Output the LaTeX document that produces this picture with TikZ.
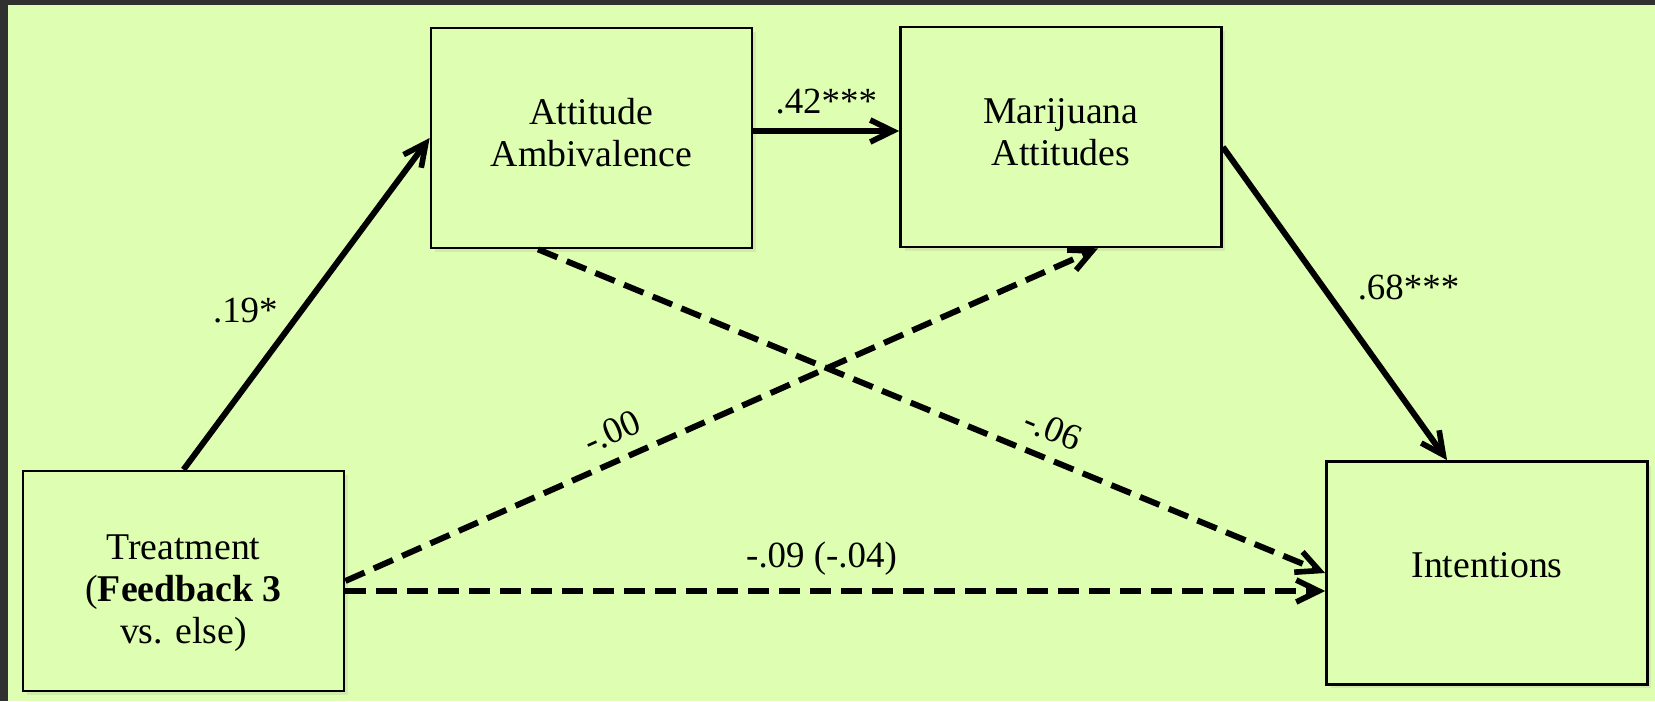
\documentclass[tikz,border=0pt]{standalone}
\usepackage{fontspec}
\setmainfont{Liberation Serif}
\usetikzlibrary{arrows.meta,calc,shadows}
\definecolor{framegray}{RGB}{48,48,48}
\definecolor{slidegreen}{RGB}{222,255,177}
\tikzset{
  var/.style={draw,line width=1.6pt,fill=slidegreen,minimum width=6.42cm,
    minimum height=4.4cm,align=center,font=\fontsize{21.5}{24}\selectfont,
    drop shadow={opacity=0.15,shadow xshift=0.08cm,shadow yshift=-0.08cm}},
  effect/.style={line width=3.4pt,
    -{Straight Barb[length=4.5mm,width=4.4mm,line width=3.2pt]}},
  nseffect/.style={effect,dash pattern=on 0.42cm off 0.2cm},
  coef/.style={font=\fontsize{21}{25}\selectfont,inner sep=2pt}
}

\begin{document}
\begin{tikzpicture}[x=0.02cm,y=-0.02cm]
    \useasboundingbox (0,0) rectangle (1655,701);
    \fill[framegray] (0,0) rectangle (1655,701);
    \fill[slidegreen] (8,5) rectangle (1655,701);
    \node[var,text depth=0pt] (treat) at (183.5,581) {\rule{0pt}{23pt}Treatment\\(\textbf{Feedback 3}\\vs. else)};
    \node[var,text depth=6pt] (ambiv) at (591.5,138) {Attitude\\Ambivalence};
    \node[var,text depth=6pt] (attit) at (1061,137) {Marijuana\\Attitudes};
    \node[var,text depth=9.5pt,minimum height=4.46cm] (intent) at (1487,573) {Intentions};
    \coordinate (t0) at ([yshift=-0.2cm]treat.east);
    \draw[effect] (treat.north) -- (ambiv.west)
      node[coef,pos=0.48,left=0.35cm] {.19*};
    \draw[effect] ([yshift=0.14cm]ambiv.east) -- ([yshift=0.14cm]ambiv.east -| attit.west)
      node[coef,midway,above=0.2cm] {.42***};
    \draw[effect] ([yshift=-0.2cm]attit.east) -- ([xshift=-0.8cm]intent.north)
      node[coef,pos=0.45,right=0.55cm] {.68***};
    \draw[nseffect] (treat.east) -- ([xshift=0.74cm]attit.south)
      node[coef,pos=0.37,sloped,above=0.2cm] {-.00};
    \draw[nseffect] ([xshift=-1.07cm]ambiv.south) -- (intent.west)
      node[coef,pos=0.64,sloped,above=0.2cm] {-.06};
    \draw[nseffect] (t0) -- (t0 -| intent.west)
      node[coef,pos=0.486,above=0.18cm] {-.09 (-.04)};
  \end{tikzpicture}
\end{document}
